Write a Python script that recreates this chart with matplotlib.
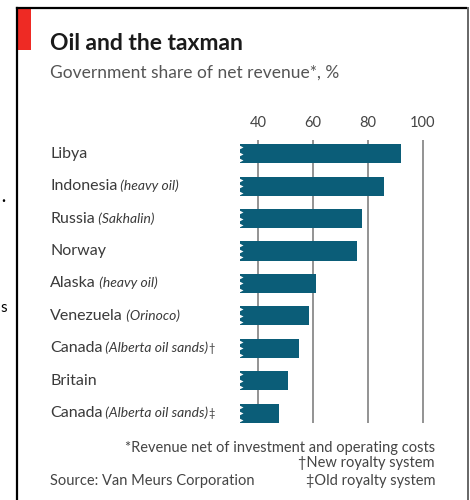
import matplotlib
matplotlib.use('Agg')
import matplotlib.pyplot as plt
import matplotlib.transforms as mtrans
from matplotlib.offsetbox import TextArea, HPacker, AnnotationBbox
from matplotlib.patches import Rectangle
from matplotlib.lines import Line2D

countries = ['Libya', 'Indonesia', 'Russia', 'Norway', 'Alaska',
             'Venezuela', 'Canada', 'Britain', 'Canada']
notes = ['', 'heavy oil', 'Sakhalin', '', 'heavy oil',
         'Orinoco', 'Alberta oil sands', '', 'Alberta oil sands']
marks = ['', '', '', '', '', '', '\u2020', '', '\u2021']
share = [92, 86, 78, 76, 61, 58.5, 55, 51, 47.5]
ticks = [40, 60, 80, 100]

plt.rcParams['font.family'] = ['Lato', 'DejaVu Sans']

W, H = 470, 500
fig = plt.figure(figsize=(4.7, 5), dpi=100)
fig.patch.set_facecolor('white')

# axes placed in pixels
base = 33.5
ax = fig.add_axes([240 / W, 1 - 423 / H, 194 / W, 283 / H])
y = list(range(len(share)))
ax.barh(y, [v - base for v in share], left=base, height=0.59,
        color='#0b5d78', zorder=2)
# broken-axis zigzag on the left end of each bar
for i in y:
    ax.plot([base] * 3, [i - 0.2, i, i + 0.2], ls='none', marker='>',
            ms=5, mfc='white', mec='none', zorder=3)

ax.set_xlim(base, 104)
ax.set_ylim(8.3, -0.42)
ax.set_xticks(ticks)
ax.xaxis.tick_top()
ax.tick_params(axis='x', length=0, pad=7, labelsize=10.5, labelcolor='#444444')
ax.set_yticks([])
ax.grid(axis='x', color='#8a8a8a', lw=1.3, zorder=1)
ax.set_axisbelow(True)
for s in ax.spines.values():
    s.set_visible(False)

# category labels with italic notes
tr = mtrans.blended_transform_factory(fig.transFigure, ax.transData)
for i in y:
    parts = [TextArea(countries[i], textprops=dict(size=11.5, color='#3a3a3a'))]
    if notes[i]:
        parts.append(TextArea(' (' + notes[i] + ')',
                              textprops=dict(size=10, style='italic', color='#3a3a3a')))
    if marks[i]:
        parts.append(TextArea(marks[i], textprops=dict(size=8, color='#3a3a3a')))
    box = HPacker(children=parts, align='baseline', pad=0, sep=0)
    ab = AnnotationBbox(box, (50 / W, i), xycoords=tr, box_alignment=(0, 0.5),
                        frameon=False, pad=0)
    ax.add_artist(ab)

# title block
fig.add_artist(Rectangle((18 / W, 1 - 50 / H), 13 / W, 41 / H,
                         transform=fig.transFigure, color='#ee2a24', lw=0))
fig.text(50 / W, 1 - 50 / H, 'Oil and the taxman', fontsize=16.5,
         fontweight='bold', color='#1a1a1a', va='baseline')
fig.text(50 / W, 1 - 78 / H, 'Government share of net revenue*, %',
         fontsize=12.5, color='#555555', va='baseline')

# footnotes
fig.text(435 / W, 1 - 452 / H, '*Revenue net of investment and operating costs',
         fontsize=10.5, color='#444444', ha='right', va='baseline')
fig.text(435 / W, 1 - 467 / H, '\u2020New royalty system',
         fontsize=10.5, color='#444444', ha='right', va='baseline')
fig.text(435 / W, 1 - 485 / H, '\u2021Old royalty system',
         fontsize=10.5, color='#444444', ha='right', va='baseline')
fig.text(50 / W, 1 - 485 / H, 'Source: Van Meurs Corporation',
         fontsize=10.5, color='#444444', va='baseline')

# frame
fig.add_artist(Line2D([17 / W, 17 / W], [0, 1 - 8 / H], color='black', lw=1.6,
                      transform=fig.transFigure))
fig.add_artist(Line2D([17 / W, 466 / W], [1 - 8 / H, 1 - 8 / H], color='black',
                      lw=1.6, transform=fig.transFigure))
fig.add_artist(Line2D([468 / W, 468 / W], [0, 1 - 8 / H], color='#666666', lw=1.4,
                      transform=fig.transFigure))

# stray characters clipped from the neighbouring page
fig.text(3 / W, 1 - 197 / H, '.', fontsize=12, fontweight='bold', color='black',
         ha='center', va='center')
fig.text(0.5 / W, 1 - 308 / H, 's', fontsize=11, color='black',
         ha='left', va='center')

fig.savefig('out.png', dpi=100)
